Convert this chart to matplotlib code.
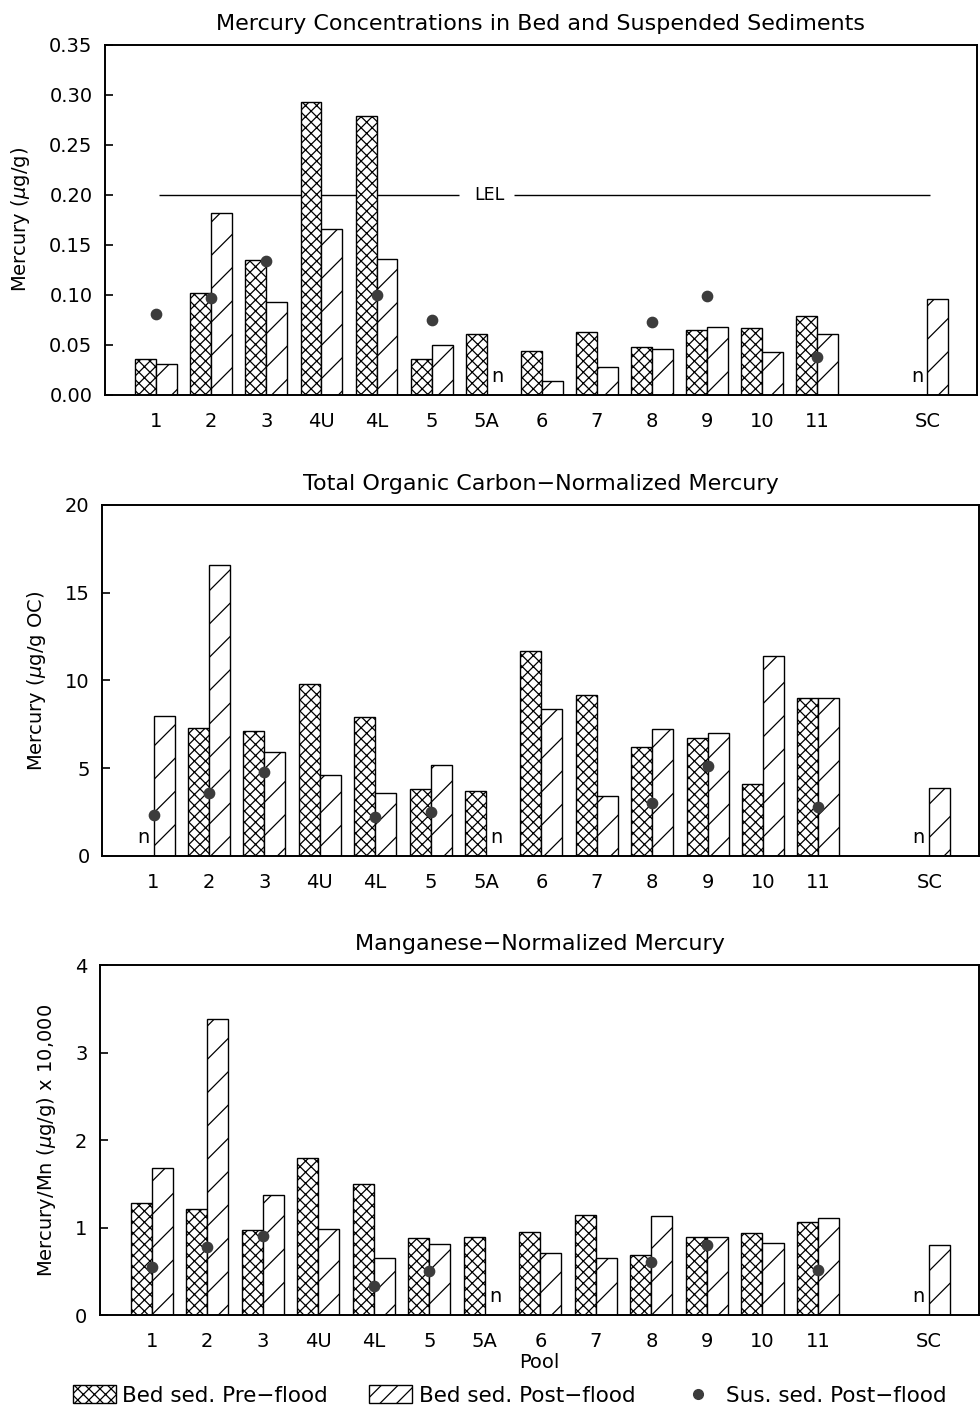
import numpy as np
import matplotlib
matplotlib.use("Agg")
from matplotlib import pyplot as plt
from matplotlib.patches import Patch
from matplotlib.lines import Line2D

plt.rcParams['font.family'] = ['DejaVu Sans']
plt.rcParams['hatch.linewidth'] = 0.9

pools = ['1', '2', '3', '4U', '4L', '5', '5A', '6', '7', '8', '9', '10', '11', 'SC']
pool_x = [0, 1, 2, 3, 4, 5, 6, 7, 8, 9, 10, 11, 12, 14]

# mercury, ug/g  (None = no sample, drawn as "n")
hg_pre = [0.036, 0.102, 0.135, 0.293, 0.279, 0.036, 0.061, 0.044, 0.063, 0.048, 0.065, 0.067, 0.079, None]
hg_post = [0.031, 0.182, 0.093, 0.166, 0.136, 0.050, None, 0.014, 0.028, 0.046, 0.068, 0.043, 0.061, 0.096]
hg_sus = [0.081, 0.097, 0.134, None, 0.100, 0.075, None, None, None, 0.073, 0.099, None, 0.038, None]
lel = 0.20

# organic carbon normalized, ug/g OC
oc_pre = [None, 7.3, 7.1, 9.8, 7.9, 3.8, 3.7, 11.7, 9.2, 6.2, 6.7, 4.1, 9.0, None]
oc_post = [8.0, 16.6, 5.9, 4.6, 3.6, 5.2, None, 8.4, 3.4, 7.25, 7.0, 11.4, 9.0, 3.9]
oc_sus = [2.35, 3.6, 4.8, None, 2.2, 2.5, None, None, None, 3.0, 5.1, None, 2.8, None]

# manganese normalized, x 10,000
mn_pre = [1.28, 1.21, 0.97, 1.79, 1.50, 0.88, 0.89, 0.95, 1.14, 0.69, 0.89, 0.94, 1.06, None]
mn_post = [1.68, 3.38, 1.37, 0.98, 0.65, 0.81, None, 0.71, 0.65, 1.13, 0.89, 0.82, 1.11, 0.80]
mn_sus = [0.55, 0.78, 0.90, None, 0.33, 0.50, None, None, None, 0.61, 0.80, None, 0.52, None]

W = 0.38
FS = 14
DOT = '#3c3c3c'

fig = plt.figure(figsize=(9.8, 14.09), dpi=100)
ax1 = fig.add_axes([0.1071, 0.7197, 0.8898, 0.2484])
ax2 = fig.add_axes([0.1041, 0.3925, 0.8950, 0.2491])
ax3 = fig.add_axes([0.1020, 0.0667, 0.8970, 0.2484])


def draw_panel(ax, pre, post, sus, ymax, yticks, ytl, title, ylabel):
    x = np.array(pool_x, dtype=float)
    for xi, v in zip(x, pre):
        if v is None:
            ax.text(xi - W / 2, 0.025, 'n', transform=ax.get_xaxis_transform(),
                    ha='center', va='bottom', fontsize=FS)
        else:
            ax.bar(xi - W / 2, v, W, facecolor='white', edgecolor='black',
                   hatch='xxx', linewidth=1.0, zorder=2)
    for xi, v in zip(x, post):
        if v is None:
            ax.text(xi + W / 2, 0.025, 'n', transform=ax.get_xaxis_transform(),
                    ha='center', va='bottom', fontsize=FS)
        else:
            ax.bar(xi + W / 2, v, W, facecolor='white', edgecolor='black',
                   hatch='/', linewidth=1.0, zorder=2)
    sx = [xi for xi, v in zip(x, sus) if v is not None]
    sy = [v for v in sus if v is not None]
    ax.scatter(sx, sy, s=55, color=DOT, zorder=4)

    ax.set_xlim(-0.93, 14.9)
    ax.set_ylim(0, ymax)
    ax.set_yticks(yticks)
    ax.set_yticklabels(ytl, fontsize=FS)
    ax.set_xticks(pool_x)
    ax.set_xticklabels(pools, fontsize=FS)
    ax.tick_params(axis='x', length=0, pad=12)
    ax.tick_params(axis='y', direction='in', length=6, width=1.2, pad=9)
    for s in ax.spines.values():
        s.set_linewidth(1.4)
    ax.set_title(title, fontsize=16, pad=11)
    ax.set_ylabel(ylabel, fontsize=FS, labelpad=12)


draw_panel(ax1, hg_pre, hg_post, hg_sus, 0.35, np.arange(0, 0.36, 0.05),
           ['%.2f' % t for t in np.arange(0, 0.36, 0.05)],
           'Mercury Concentrations in Bed and Suspended Sediments',
           'Mercury ($\\mu$g/g)')
ax1.hlines(lel, 0.05, 5.5, color='black', linewidth=1.0, zorder=1)
ax1.hlines(lel, 6.5, 14.05, color='black', linewidth=1.0, zorder=1)
ax1.text(6.05, lel, 'LEL', ha='center', va='center', fontsize=12.5)

draw_panel(ax2, oc_pre, oc_post, oc_sus, 20, [0, 5, 10, 15, 20],
           ['0', '5', '10', '15', '20'],
           'Total Organic Carbon\u2212Normalized Mercury',
           'Mercury ($\\mu$g/g OC)')

draw_panel(ax3, mn_pre, mn_post, mn_sus, 4, [0, 1, 2, 3, 4],
           ['0', '1', '2', '3', '4'],
           'Manganese\u2212Normalized Mercury',
           'Mercury/Mn ($\\mu$g/g) x 10,000')
ax3.set_xlabel('Pool', fontsize=FS, labelpad=2)

handles = [
    Patch(facecolor='white', edgecolor='black', hatch='xxx', linewidth=1.0),
    Patch(facecolor='white', edgecolor='black', hatch='//', linewidth=1.0),
    Line2D([], [], marker='o', linestyle='none', color=DOT, markersize=7),
]
fig.legend(handles, ['Bed sed. Pre\u2212flood', 'Bed sed. Post\u2212flood',
                     'Sus. sed. Post\u2212flood'],
           loc='center', bbox_to_anchor=(0.52, 0.0095), ncol=3, frameon=False,
           fontsize=15.5, handlelength=2.0, handleheight=0.9, columnspacing=1.9,
           handletextpad=0.3)

fig.savefig('out.png', dpi=100)
